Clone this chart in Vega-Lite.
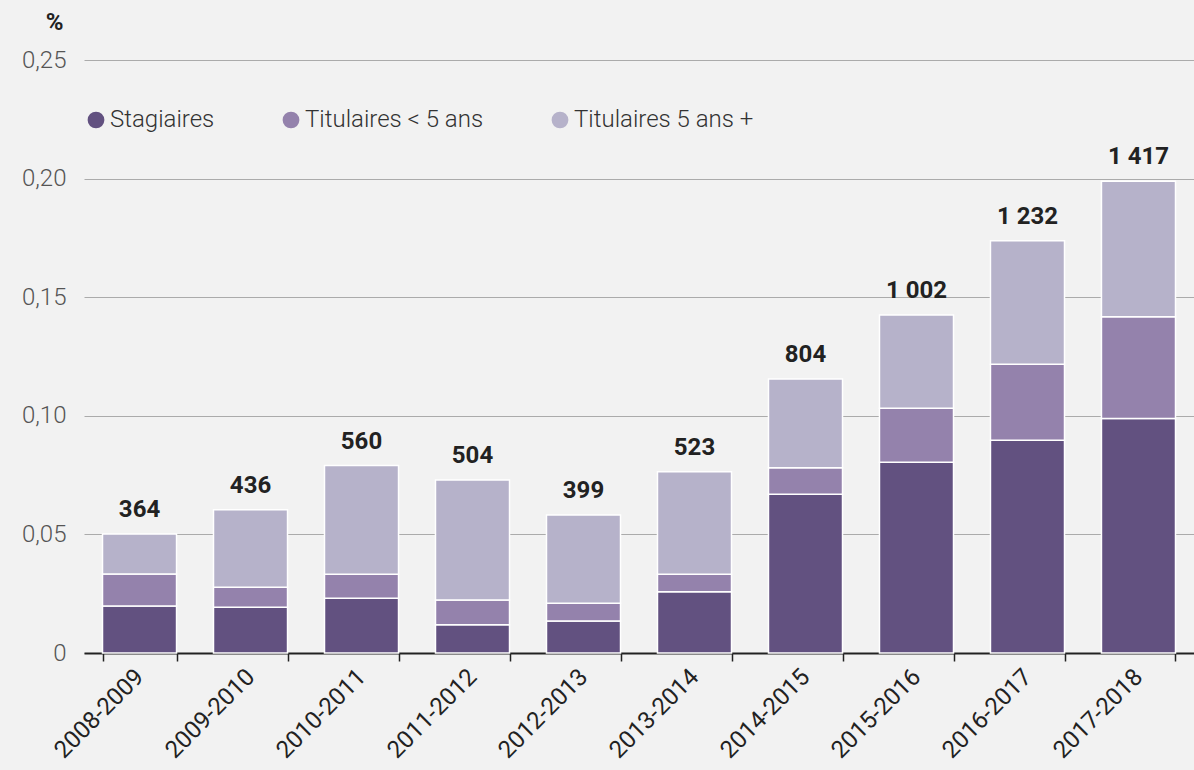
{
  "$schema": "https://vega.github.io/schema/vega-lite/v6.json",
  "autosize": {"type": "none"},
  "padding": {"left": 84, "top": 60, "right": 0, "bottom": 117},
  "width": 1110,
  "height": 593,
  "background": "#f2f2f2",
  "config": {
    "font": "Roboto",
    "view": {"stroke": null},
    "axisY": {
      "titleAngle": 0,
      "titleAlign": "center",
      "titleBaseline": "middle",
      "titleX": -30,
      "titleY": -38,
      "titleFontSize": 24,
      "titleFontWeight": "bold",
      "titleColor": "#222222",
      "labelFontSize": 24,
      "labelFontWeight": 300,
      "labelColor": "#555555",
      "labelPadding": 18,
      "ticks": false,
      "domain": false,
      "grid": true,
      "gridColor": "#ababab",
      "gridWidth": 1.2
    }
  },
  "data": {
    "values": [
      {"annee": "2008-2009", "statut": "Stagiaires", "rang": 1, "taux": 0.0198, "effectif": 364},
      {"annee": "2008-2009", "statut": "Titulaires < 5 ans", "rang": 2, "taux": 0.0135, "effectif": 364},
      {"annee": "2008-2009", "statut": "Titulaires 5 ans +", "rang": 3, "taux": 0.0169, "effectif": 364},
      {"annee": "2009-2010", "statut": "Stagiaires", "rang": 1, "taux": 0.0193, "effectif": 436},
      {"annee": "2009-2010", "statut": "Titulaires < 5 ans", "rang": 2, "taux": 0.0084, "effectif": 436},
      {"annee": "2009-2010", "statut": "Titulaires 5 ans +", "rang": 3, "taux": 0.0327, "effectif": 436},
      {"annee": "2010-2011", "statut": "Stagiaires", "rang": 1, "taux": 0.0231, "effectif": 560},
      {"annee": "2010-2011", "statut": "Titulaires < 5 ans", "rang": 2, "taux": 0.0101, "effectif": 560},
      {"annee": "2010-2011", "statut": "Titulaires 5 ans +", "rang": 3, "taux": 0.0458, "effectif": 560},
      {"annee": "2011-2012", "statut": "Stagiaires", "rang": 1, "taux": 0.0119, "effectif": 504},
      {"annee": "2011-2012", "statut": "Titulaires < 5 ans", "rang": 2, "taux": 0.0104, "effectif": 504},
      {"annee": "2011-2012", "statut": "Titulaires 5 ans +", "rang": 3, "taux": 0.0506, "effectif": 504},
      {"annee": "2012-2013", "statut": "Stagiaires", "rang": 1, "taux": 0.0135, "effectif": 399},
      {"annee": "2012-2013", "statut": "Titulaires < 5 ans", "rang": 2, "taux": 0.0075, "effectif": 399},
      {"annee": "2012-2013", "statut": "Titulaires 5 ans +", "rang": 3, "taux": 0.0372, "effectif": 399},
      {"annee": "2013-2014", "statut": "Stagiaires", "rang": 1, "taux": 0.0258, "effectif": 523},
      {"annee": "2013-2014", "statut": "Titulaires < 5 ans", "rang": 2, "taux": 0.0074, "effectif": 523},
      {"annee": "2013-2014", "statut": "Titulaires 5 ans +", "rang": 3, "taux": 0.0432, "effectif": 523},
      {"annee": "2014-2015", "statut": "Stagiaires", "rang": 1, "taux": 0.0669, "effectif": 804},
      {"annee": "2014-2015", "statut": "Titulaires < 5 ans", "rang": 2, "taux": 0.0112, "effectif": 804},
      {"annee": "2014-2015", "statut": "Titulaires 5 ans +", "rang": 3, "taux": 0.0374, "effectif": 804},
      {"annee": "2015-2016", "statut": "Stagiaires", "rang": 1, "taux": 0.0804, "effectif": 1002},
      {"annee": "2015-2016", "statut": "Titulaires < 5 ans", "rang": 2, "taux": 0.0228, "effectif": 1002},
      {"annee": "2015-2016", "statut": "Titulaires 5 ans +", "rang": 3, "taux": 0.0393, "effectif": 1002},
      {"annee": "2016-2017", "statut": "Stagiaires", "rang": 1, "taux": 0.0897, "effectif": 1232},
      {"annee": "2016-2017", "statut": "Titulaires < 5 ans", "rang": 2, "taux": 0.0320, "effectif": 1232},
      {"annee": "2016-2017", "statut": "Titulaires 5 ans +", "rang": 3, "taux": 0.0521, "effectif": 1232},
      {"annee": "2017-2018", "statut": "Stagiaires", "rang": 1, "taux": 0.0989, "effectif": 1417},
      {"annee": "2017-2018", "statut": "Titulaires < 5 ans", "rang": 2, "taux": 0.0429, "effectif": 1417},
      {"annee": "2017-2018", "statut": "Titulaires 5 ans +", "rang": 3, "taux": 0.0571, "effectif": 1417}
    ]
  },
  "encoding": {
    "x": {
      "field": "annee",
      "type": "nominal",
      "sort": null,
      "scale": {"paddingInner": 0.333, "paddingOuter": 0.1667},
      "axis": {
        "title": null,
        "labelAngle": -45,
        "labelAlign": "right",
        "labelBaseline": "middle",
        "labelFontSize": 24,
        "labelColor": "#222222",
        "labelPadding": 12,
        "labelLimit": 300,
        "tickBand": "extent",
        "tickSize": 8,
        "tickWidth": 1.5,
        "tickColor": "#222222",
        "domainColor": "#222222",
        "domainWidth": 2,
        "grid": false
      }
    }
  },
  "layer": [
    {
      "mark": {"type": "bar", "stroke": "white", "strokeWidth": 1.5},
      "encoding": {
        "y": {
          "field": "taux",
          "type": "quantitative",
          "stack": "zero",
          "scale": {"domain": [0, 0.25], "nice": false},
          "axis": {
            "title": "%",
            "values": [0, 0.05, 0.1, 0.15, 0.2, 0.25],
            "labelExpr": "datum.value == 0 ? '0' : replace(format(datum.value, '.2f'), '.', ',')"
          }
        },
        "color": {
          "field": "statut",
          "type": "nominal",
          "scale": {
            "domain": ["Stagiaires", "Titulaires < 5 ans", "Titulaires 5 ans +"],
            "range": ["#625180", "#9482ac", "#b6b2ca"]
          },
          "legend": {
            "title": null,
            "orient": "none",
            "legendX": 0,
            "legendY": 48,
            "direction": "horizontal",
            "symbolType": "circle",
            "symbolSize": 280,
            "symbolStrokeWidth": 0,
            "labelFontSize": 24,
            "labelFontWeight": 300,
            "labelColor": "#333333",
            "labelOffset": 2,
            "labelLimit": 400,
            "columnPadding": 64,
            "padding": 0
          }
        },
        "order": {"field": "rang", "type": "quantitative"}
      }
    },
    {
      "transform": [
        {"aggregate": [{"op": "sum", "field": "taux", "as": "total"}], "groupby": ["annee", "effectif"]},
        {"calculate": "replace(format(datum.effectif, ','), ',', ' ')", "as": "etiquette"}
      ],
      "mark": {"type": "text", "fontSize": 24, "fontWeight": "bold", "color": "#222222", "baseline": "alphabetic", "dy": -17},
      "encoding": {
        "y": {"field": "total", "type": "quantitative"},
        "text": {"field": "etiquette"}
      }
    }
  ]
}
